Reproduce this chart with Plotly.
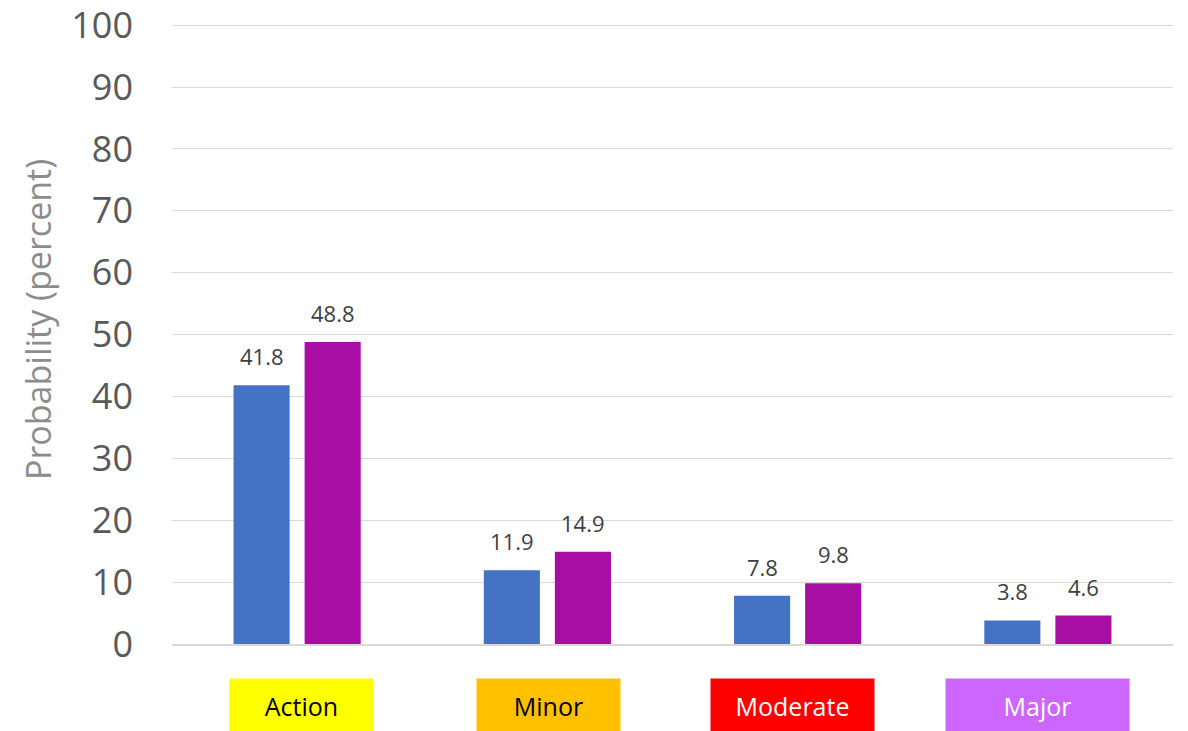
import plotly.graph_objects as go

categories = ["Action", "Minor", "Moderate", "Major"]
series_a = [41.8, 11.9, 7.8, 3.8]
series_b = [48.8, 14.9, 9.8, 4.6]
y_ticks = [0, 10, 20, 30, 40, 50, 60, 70, 80, 90, 100]
y_title = "Probability (percent)"

label_bg = ["#FFFF00", "#FFC000", "#FF0000", "#CC66FF"]
label_fg = ["#000000", "#000000", "#FFFFFF", "#FFFFFF"]
label_w = [143, 143, 163, 183]
label_dx = [4, 1, -5, -10]

series = [(series_a, "#4472C4", -35.5), (series_b, "#A80EA3", 35.5)]

fig = go.Figure()
for vals, color, _ in series:
    fig.add_trace(go.Bar(
        x=categories, y=vals, marker=dict(color=color, line=dict(width=0)),
        showlegend=False, hoverinfo="x+y",
    ))

# value labels above each bar
for vals, _, dx in series:
    for cat, v in zip(categories, vals):
        fig.add_annotation(
            x=cat, xref="x", y=v, yref="y", yanchor="middle",
            text=f"{v:.1f}", showarrow=False, xshift=dx, yshift=29,
            font=dict(family="Open Sans", size=22, color="#404040"),
        )

# coloured category labels under the axis
for cat, bg, fg, w, dx in zip(categories, label_bg, label_fg, label_w, label_dx):
    fig.add_annotation(
        x=cat, xref="x", y=-0.1, yref="paper", yanchor="middle",
        text=cat, showarrow=False, bgcolor=bg, width=w, height=54,
        borderpad=0, xshift=dx,
        font=dict(family="Open Sans", size=25, color=fg),
    )

# vertical axis title
fig.add_annotation(
    x=0, xref="paper", xanchor="center", xshift=-134,
    y=0.5226, yref="paper", yanchor="middle",
    text=y_title, textangle=-90, showarrow=False,
    font=dict(family="Open Sans", size=34, color="#8C8C8C"),
)

fig.update_layout(
    width=1188, height=731,
    margin=dict(l=172, r=15, t=24, b=87, autoexpand=False),
    paper_bgcolor="white", plot_bgcolor="white",
    barmode="group", bargap=0.432, bargroupgap=0.211,
    xaxis=dict(showticklabels=False, showline=True, linecolor="#D9D9D9",
               linewidth=2, ticks="", automargin=False),
    yaxis=dict(range=[0, 100.2], tickvals=y_ticks, showgrid=True,
               gridcolor="#D9D9D9", gridwidth=1, zeroline=False,
               automargin=False, ticklabeloverflow="allow",
               tickfont=dict(family="Open Sans", size=36, color="#595959"),
               ticklabelstandoff=38),
)

fig.write_html("out.html")
